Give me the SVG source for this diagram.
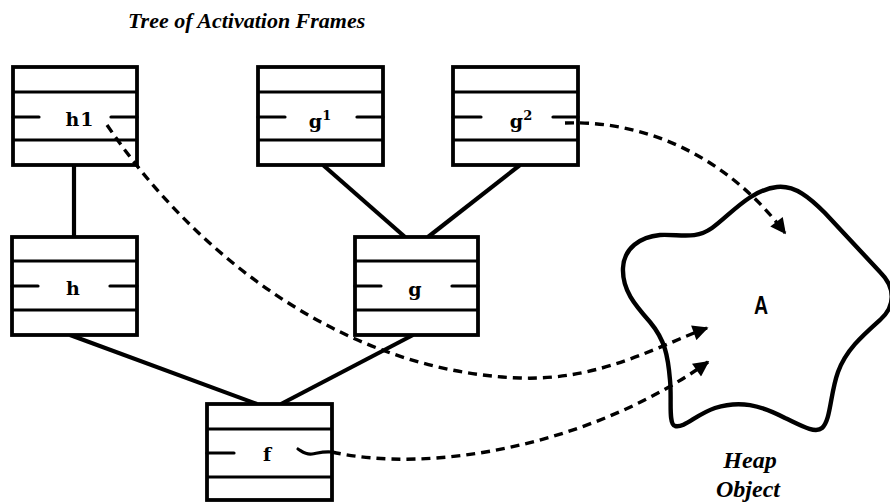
<svg xmlns="http://www.w3.org/2000/svg" width="890" height="504" viewBox="0 0 890 504">
  <style>
    .frame { fill: #fff; stroke: #000; stroke-width: 3.8; }
    .rule { stroke: #000; stroke-width: 3.2; fill: none; }
    .tick { stroke: #000; stroke-width: 3.2; stroke-linecap: round; fill: none; }
    .lbl { font-family: "DejaVu Serif", "Liberation Serif", serif; font-weight: bold; font-size: 19px; fill: #000; text-anchor: middle; }
    .sup { font-size: 13px; }
    .edge { stroke: #000; stroke-width: 4.2; fill: none; }
    .ref { stroke: #000; stroke-width: 3.4; fill: none; stroke-dasharray: 9 6; }
    .cap { font-family: "Liberation Serif", "DejaVu Serif", serif; font-weight: bold; font-style: italic; fill: #000; }
    .mark { font-family: "Liberation Sans", "DejaVu Sans", sans-serif; font-weight: bold; fill: #000; text-anchor: middle; }
  </style>
  <defs>
    <marker id="head" viewBox="0 0 10 10" refX="9" refY="5" markerWidth="5" markerHeight="4.6" orient="auto" markerUnits="strokeWidth">
      <path d="M0,0 L10,5 L0,10 Z" fill="#000" stroke="none"/>
    </marker>
  </defs>

  <rect width="890" height="504" fill="#fff"/>

  <text class="cap" x="128" y="28" font-size="22">Tree of Activation Frames</text>

  <!-- tree edges -->
  <g id="connectors">
    <line class="edge" x1="74" y1="165" x2="74" y2="237"/>
    <line class="edge" x1="323" y1="165" x2="405" y2="237"/>
    <line class="edge" x1="520" y1="165" x2="428" y2="237"/>
    <line class="edge" x1="70" y1="335" x2="257" y2="404"/>
    <line class="edge" x1="413" y1="335" x2="281" y2="404"/>
  </g>

  <!-- activation frames -->
  <g id="h1">
    <rect class="frame" x="13" y="67" width="124" height="98"/>
    <line class="rule" x1="13" y1="92" x2="137" y2="92"/>
    <line class="rule" x1="13" y1="140" x2="137" y2="140"/>
    <line class="tick" x1="13" y1="117" x2="39" y2="117"/>
    <line class="tick" x1="111" y1="117" x2="137" y2="117"/>
    <text class="lbl" x="80" y="126" letter-spacing="1">h1</text>
  </g>
  <g id="g1">
    <rect class="frame" x="258" y="67" width="125" height="98"/>
    <line class="rule" x1="258" y1="92" x2="383" y2="92"/>
    <line class="rule" x1="258" y1="140" x2="383" y2="140"/>
    <line class="tick" x1="258" y1="117" x2="285" y2="117"/>
    <line class="tick" x1="357" y1="117" x2="383" y2="117"/>
    <text class="lbl" x="320" y="128">g<tspan class="sup" dy="-8">1</tspan></text>
  </g>
  <g id="g2">
    <rect class="frame" x="453" y="67" width="125" height="98"/>
    <line class="rule" x1="453" y1="92" x2="578" y2="92"/>
    <line class="rule" x1="453" y1="140" x2="578" y2="140"/>
    <line class="tick" x1="453" y1="117" x2="481" y2="117"/>
    <line class="tick" x1="553" y1="117" x2="578" y2="117"/>
    <text class="lbl" x="521" y="128">g<tspan class="sup" dy="-8">2</tspan></text>
  </g>
  <g id="h">
    <rect class="frame" x="12" y="237" width="125" height="98"/>
    <line class="rule" x1="12" y1="261" x2="137" y2="261"/>
    <line class="rule" x1="12" y1="310" x2="137" y2="310"/>
    <line class="tick" x1="12" y1="286" x2="38" y2="286"/>
    <line class="tick" x1="110" y1="286" x2="137" y2="286"/>
    <text class="lbl" x="73" y="295">h</text>
  </g>
  <g id="g">
    <rect class="frame" x="355" y="237" width="123" height="98"/>
    <line class="rule" x1="355" y1="261" x2="478" y2="261"/>
    <line class="rule" x1="355" y1="310" x2="478" y2="310"/>
    <line class="tick" x1="355" y1="286" x2="381" y2="286"/>
    <line class="tick" x1="452" y1="286" x2="478" y2="286"/>
    <text class="lbl" x="415" y="296">g</text>
  </g>
  <g id="f">
    <rect class="frame" x="207" y="404" width="125" height="96"/>
    <line class="rule" x1="207" y1="429" x2="332" y2="429"/>
    <line class="rule" x1="207" y1="477" x2="332" y2="477"/>
    <line class="tick" x1="207" y1="453" x2="234" y2="453"/>
    <text class="lbl" x="267" y="461">f</text>
  </g>

  <!-- heap object -->
  <g id="heap">
    <path d="M777,187 C795,185 810,198 825,213 L880,272 C896,288 895,306 881,319 C862,336 846,350 838,372 C830,394 831,420 822,428 C815,434 800,425 785,418 C760,405 740,400 715,408 C695,415 685,428 675,426 C668,424 672,400 670,380 C668,356 665,340 650,322 C635,305 622,290 623,268 C624,248 640,237 660,235 C680,234 695,240 712,228 C730,215 750,190 777,187 Z" fill="none" stroke="#000" stroke-width="4.4"/>
    <text class="mark" x="0" y="0" font-size="26" transform="translate(761,314) scale(0.75,1)">A</text>
    <text class="cap" x="750" y="468" font-size="24" text-anchor="middle">Heap</text>
    <text class="cap" x="748" y="497" font-size="24" text-anchor="middle">Object</text>
  </g>

  <!-- references into the heap -->
  <g id="references">
    <path class="ref" d="M107,125 C200,262 350,372 520,378 C600,381 660,345 707,328" marker-end="url(#head)"/>
    <path class="ref" d="M565,123 C650,120 730,160 785,233" marker-end="url(#head)"/>
    <path class="tick" d="M298,449 C303,452 306,455 312,454 C318,453 324,451 332,452"/>
    <path class="ref" d="M332,452 C430,474 590,446 708,362" marker-end="url(#head)"/>
  </g>
</svg>
